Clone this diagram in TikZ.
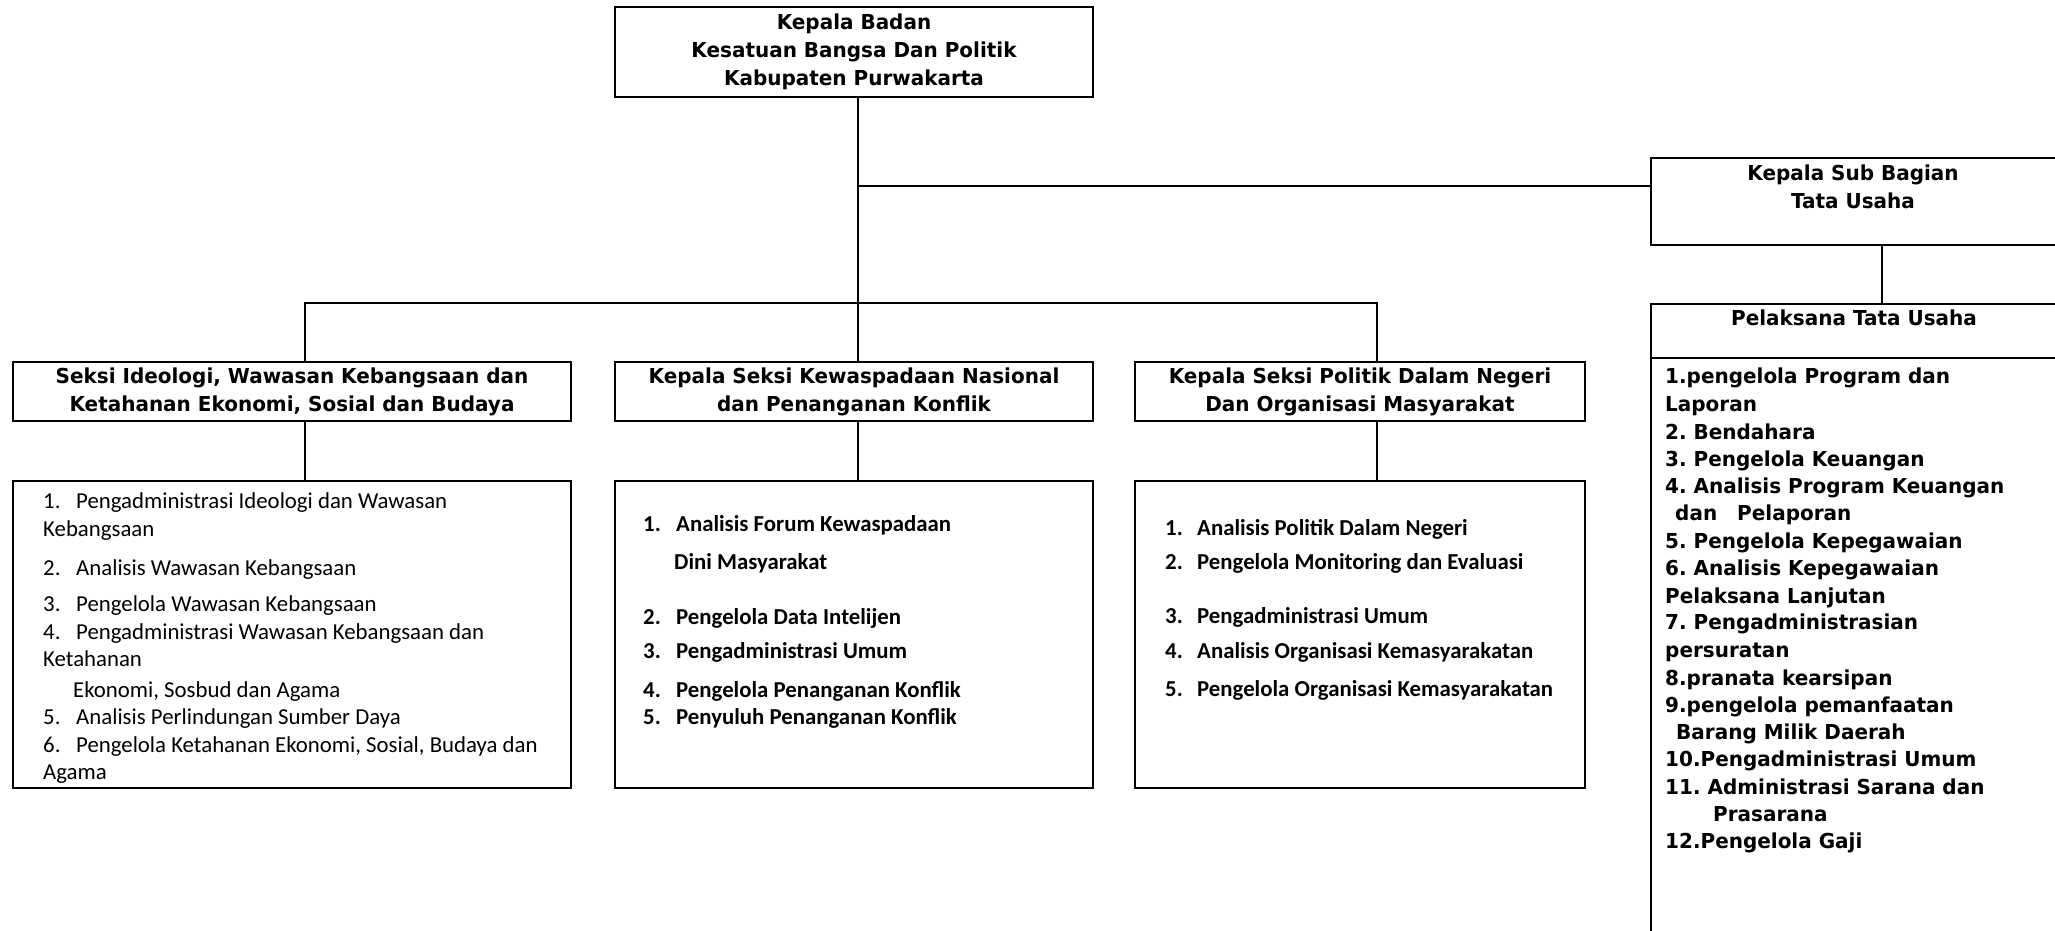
\documentclass[tikz,border=0pt]{standalone}
\usepackage{fontspec}
\newfontfamily\tahfnt[FakeStretch=0.97]{DejaVu Sans}
\newfontfamily\calfnt{Carlito}
\frenchspacing
\begin{document}
\begin{tikzpicture}[x=1pt,y=-1pt,
  box/.style={draw, line width=2pt, rectangle, inner sep=0pt, align=center},
  head/.style={font=\tahfnt\bfseries\fontsize{20.6}{28}\selectfont, align=center},
  itA/.style={anchor=mid west, inner sep=0pt, font=\calfnt\fontsize{22.8}{26}\selectfont},
  itB/.style={anchor=mid west, inner sep=0pt, font=\calfnt\bfseries\fontsize{22.8}{26}\selectfont},
  itT/.style={anchor=mid west, inner sep=0pt, font=\tahfnt\bfseries\fontsize{20.6}{27}\selectfont},
  conn/.style={line width=2pt}]
\useasboundingbox (0,0) rectangle (2055,930);
\clip (0,0) rectangle (2055,930);
\fill[white] (0,0) rectangle (2055,930);

% boxes
\node[box, head, minimum width=478pt, minimum height=90pt] (kb) at (854,52) {Kepala Badan\\Kesatuan Bangsa Dan Politik\\Kabupaten Purwakarta};
\node[box, minimum width=410pt, minimum height=87pt, anchor=north west] (sub) at (1650,157) {};
\node[head] (subt) at (1853,187) {Kepala Sub Bagian\\Tata Usaha};
\node[box, minimum width=410pt, minimum height=660pt, anchor=north west] (pel) at (1650,303) {};
\node[head] (pelt) at (1854,318) {Pelaksana Tata Usaha};
\coordinate (sep) at (1650,358);
\draw[conn] (sep) -- (sep -| pel.east);

\node[box, head, minimum width=558pt, minimum height=59pt] (sA) at (292,391.5) {Seksi Ideologi, Wawasan Kebangsaan dan\\Ketahanan Ekonomi, Sosial dan Budaya};
\node[box, head, minimum width=478pt, minimum height=59pt] (sB) at (854,391.5) {Kepala Seksi Kewaspadaan Nasional\\dan Penanganan Konflik};
\node[box, head, minimum width=450pt, minimum height=59pt] (sC) at (1360,391.5) {Kepala Seksi Politik Dalam Negeri\\Dan Organisasi Masyarakat};

\node[box, minimum width=558pt, minimum height=307pt] (lA) at (292,634.5) {};
\node[box, minimum width=478pt, minimum height=307pt] (lB) at (854,634.5) {};
\node[box, minimum width=450pt, minimum height=307pt] (lC) at (1360,634.5) {};

% connectors
\coordinate (j1) at (858,186);
\coordinate (j2) at (858,303);
\coordinate (jA) at (305,303);
\coordinate (jC) at (1377,303);
\coordinate (jT) at (1882,250);
\draw[conn] (kb.south -| j1) -- (j2);
\draw[conn] (j1) -- (j1 -| sub.west);
\draw[conn] (jT |- sub.south) -- (jT |- pel.north);
\draw[conn] (jA |- sA.north) -- (jA) -- (jC) -- (jC |- sC.north);
\draw[conn] (j2) -- (j2 |- sB.north);
\draw[conn] (jA |- sA.south) -- (jA |- lA.north);
\draw[conn] (j2 |- sB.south) -- (j2 |- lB.north);
\draw[conn] (jC |- sC.south) -- (jC |- lC.north);

% list A
\node[itA] (a1) at (43,506) {\makebox[33pt][l]{1.}Pengadministrasi Ideologi dan Wawasan};
\node[itA] (a1b) at (43,534) {Kebangsaan};
\node[itA] (a2) at (43,573) {\makebox[33pt][l]{2.}Analisis Wawasan Kebangsaan};
\node[itA] (a3) at (43,609) {\makebox[33pt][l]{3.}Pengelola Wawasan Kebangsaan};
\node[itA] (a4) at (43,637) {\makebox[33pt][l]{4.}Pengadministrasi Wawasan Kebangsaan dan};
\node[itA] (a4b) at (43,664) {Ketahanan};
\node[itA] (a4c) at (73,695) {Ekonomi, Sosbud dan Agama};
\node[itA] (a5) at (43,722) {\makebox[33pt][l]{5.}Analisis Perlindungan Sumber Daya};
\node[itA] (a6) at (43,750) {\makebox[33pt][l]{6.}Pengelola Ketahanan Ekonomi, Sosial, Budaya dan};
\node[itA] (a6b) at (43,777) {Agama};

% list B
\node[itB] (b1) at (643,529) {\makebox[33pt][l]{1.}Analisis Forum Kewaspadaan};
\node[itB] (b1b) at (674,567) {Dini Masyarakat};
\node[itB] (b2) at (643,622) {\makebox[33pt][l]{2.}Pengelola Data Intelijen};
\node[itB] (b3) at (643,656) {\makebox[33pt][l]{3.}Pengadministrasi Umum};
\node[itB] (b4) at (643,695) {\makebox[33pt][l]{4.}Pengelola Penanganan Konflik};
\node[itB] (b5) at (643,722) {\makebox[33pt][l]{5.}Penyuluh Penanganan Konflik};

% list C
\node[itB] (c1) at (1165,533) {\makebox[32pt][l]{1.}Analisis Politik Dalam Negeri};
\node[itB] (c2) at (1165,567) {\makebox[32pt][l]{2.}Pengelola Monitoring dan Evaluasi};
\node[itB] (c3) at (1165,621) {\makebox[32pt][l]{3.}Pengadministrasi Umum};
\node[itB] (c4) at (1165,656) {\makebox[32pt][l]{4.}Analisis Organisasi Kemasyarakatan};
\node[itB] (c5) at (1165,694) {\makebox[32pt][l]{5.}Pengelola Organisasi Kemasyarakatan};

% list Tata Usaha
\node[itT] (t1) at (1665,381) {1.pengelola Program dan};
\node[itT] (t1b) at (1665,409) {Laporan};
\node[itT] (t2) at (1665,437) {2. Bendahara};
\node[itT] (t3) at (1665,464) {3. Pengelola Keuangan};
\node[itT] (t4) at (1665,491) {4. Analisis Program Keuangan};
\node[itT] (t4b) at (1675,518) {dan\hspace{20pt}Pelaporan};
\node[itT] (t5) at (1665,546) {5. Pengelola Kepegawaian};
\node[itT] (t6) at (1665,573) {6. Analisis Kepegawaian};
\node[itT] (t6b) at (1665,601) {Pelaksana Lanjutan};
\node[itT] (t7) at (1665,627) {7. Pengadministrasian};
\node[itT] (t7b) at (1665,655) {persuratan};
\node[itT] (t8) at (1665,683) {8.pranata kearsipan};
\node[itT] (t9) at (1665,710) {9.pengelola pemanfaatan};
\node[itT] (t9b) at (1676,737) {Barang Milik Daerah};
\node[itT] (t10) at (1665,764) {10.Pengadministrasi Umum};
\node[itT] (t11) at (1665,792) {11. Administrasi Sarana dan};
\node[itT] (t11b) at (1713,819) {Prasarana};
\node[itT] (t12) at (1665,846) {12.Pengelola Gaji};
\end{tikzpicture}
\end{document}
